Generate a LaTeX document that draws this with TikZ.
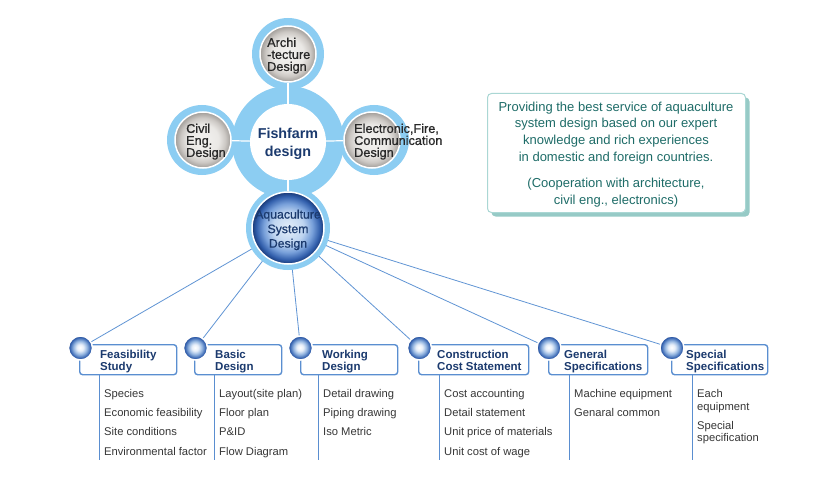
\documentclass[tikz,border=0pt]{standalone}
\usepackage{fontspec}
\setmainfont{Liberation Sans}
\newfontfamily\medfont[FakeBold=0.8]{Liberation Sans}
\usetikzlibrary{backgrounds,shadows}
\definecolor{ringblue}{RGB}{140,205,242}
\definecolor{navy}{RGB}{27,58,110}
\definecolor{itemgray}{RGB}{55,55,55}
\definecolor{circtext}{RGB}{40,40,40}
\definecolor{lineblue}{RGB}{96,148,212}
\definecolor{boxblue}{RGB}{90,142,208}
\definecolor{tealtext}{RGB}{30,108,104}
\definecolor{tealborder}{RGB}{170,215,212}
\definecolor{tealshadow}{RGB}{150,202,198}
\definecolor{grA}{RGB}{243,242,240}
\definecolor{grB}{RGB}{234,232,229}
\definecolor{grC}{RGB}{204,200,196}
\definecolor{grD}{RGB}{160,156,152}
\definecolor{aqA}{RGB}{228,238,249}
\definecolor{aqB}{RGB}{190,212,240}
\definecolor{aqC}{RGB}{120,160,218}
\definecolor{aqD}{RGB}{50,95,172}
\definecolor{aqE}{RGB}{24,56,118}
\definecolor{blA}{RGB}{255,255,255}
\definecolor{blB}{RGB}{230,238,249}
\definecolor{blC}{RGB}{150,183,225}
\definecolor{blD}{RGB}{60,105,180}
\definecolor{blE}{RGB}{30,70,145}
\pgfdeclareradialshading{grayshade}{\pgfpoint{0bp}{0bp}}{color(0bp)=(grA); color(14bp)=(grB); color(20bp)=(grC); color(25bp)=(grD); color(50bp)=(grD)}
\pgfdeclareradialshading{aquashade}{\pgfpoint{0bp}{0bp}}{color(0bp)=(aqA); color(11bp)=(aqB); color(17bp)=(aqC); color(22bp)=(aqD); color(25bp)=(aqE); color(50bp)=(aqE)}
\pgfdeclareradialshading{dotshade}{\pgfpoint{-1bp}{1bp}}{color(0bp)=(blA); color(7bp)=(blB); color(14bp)=(blC); color(21bp)=(blD); color(25bp)=(blE); color(50bp)=(blE)}
\tikzset{
  ring/.style={circle, fill=ringblue, inner sep=0pt},
  graydisc/.style={circle, inner sep=0pt, minimum size=56pt, shade, shading=grayshade, draw=white, line width=1.5pt},
  graytext/.style={anchor=north west, align=left, inner sep=0pt, text=circtext, font=\medfont\fontsize{12.7}{12}\selectfont},
  conn/.style={draw=lineblue, line width=0.8pt},
  whiteline/.style={draw=white, line width=1.2pt},
  stepbox/.style={draw=boxblue, line width=1.4pt, rounded corners=3pt, minimum height=30pt, anchor=north west, inner sep=0pt},
  bluedot/.style={circle, inner sep=0pt, minimum size=24pt, shade, shading=dotshade, draw=white, line width=1.5pt},
  lbl/.style={anchor=north west, align=left, inner sep=0pt, text=navy, font=\fontsize{11.5}{12}\selectfont\bfseries},
  items/.style={anchor=north west, align=left, inner sep=0pt, text=itemgray, font=\fontsize{11.2}{19.3}\selectfont},
  vline/.style={draw=boxblue, line width=0.9pt}
}
\begin{document}
\begin{tikzpicture}[x=1pt,y=-1pt]
\useasboundingbox (0,0) rectangle (840,500);
% outer rings
\node[ring, minimum size=72pt] (archR) at (288,54) {};
\node[ring, minimum size=70pt] (civR) at (202,140) {};
\node[ring, minimum size=70pt] (eleR) at (374,140) {};
\node[ring, minimum size=84pt] (aquR) at (288,228) {};
\node[ring, minimum size=112pt] (fishR) at (288,142) {};
% inner discs
\node[graydisc] (arch) at (288,54) {};
\node[graydisc] (civ) at (203,140) {};
\node[graydisc] (ele) at (372,140) {};
\node[circle, fill=white, minimum size=76pt, inner sep=0pt] (fish) at (288,142) {};
\node[circle, minimum size=72pt, inner sep=0pt, shade, shading=aquashade, draw=white, line width=1.5pt] (aqua) at (288,228) {};
\draw[whiteline] (arch) -- (fish);
\draw[whiteline] (civ) -- (fish);
\draw[whiteline] (ele) -- (fish);
\draw[whiteline] (fish) -- (aqua);
% texts in circles
\node[graytext] (tArch) at (267,37.5) {Archi\\-tecture\\Design};
\node[graytext] (tCiv) at (186,123.5) {Civil\\Eng.\\Design};
\node[graytext] (tEle) at (354,123.5) {Electronic,Fire,\\Communication\\Design};
\node[anchor=north, font=\fontsize{14.3}{18}\selectfont\bfseries, text=navy, align=center, inner sep=0pt] (tFish) at (288,128) {Fishfarm\\design};
\node[anchor=north, font=\medfont\fontsize{12.3}{14.5}\selectfont, text=navy, align=center, inner sep=0pt] (tAqua) at (288,209.5) {Aquaculture\\System\\Design};
% info box
\node[draw=tealborder, line width=1pt, fill=white, rounded corners=4pt, minimum width=258pt, minimum height=119pt, anchor=north west, drop shadow={shadow xshift=4pt, shadow yshift=-4pt, fill=tealshadow, opacity=1}] (info) at (487,93) {};
\node[anchor=north, align=center, inner sep=0pt, text=tealtext, font=\fontsize{13}{16.8}\selectfont] (infoText) at (616,101.5) {Providing the best service of aquaculture\\system design based on our expert\\knowledge and rich experiences\\in domestic and foreign countries.\\[9pt](Cooperation with architecture,\\civil eng., electronics)};
% bottom boxes
\node[stepbox, minimum width=97pt] (box1) at (79,344) {};
\node[stepbox, minimum width=87pt] (box2) at (194,344) {};
\node[stepbox, minimum width=97pt] (box3) at (300,344) {};
\node[stepbox, minimum width=110pt] (box4) at (418,344) {};
\node[stepbox, minimum width=99pt] (box5) at (548,344) {};
\node[stepbox, minimum width=96pt] (box6) at (671,344) {};
\node[bluedot] (b1) at (80.5,348) {};
\node[bluedot] (b2) at (195.5,348) {};
\node[bluedot] (b3) at (300.5,348) {};
\node[bluedot] (b4) at (419.5,348) {};
\node[bluedot] (b5) at (549,348) {};
\node[bluedot] (b6) at (672,348) {};
\node[lbl] (l1) at (100,349.8) {Feasibility\\Study};
\node[lbl] (l2) at (215,349.8) {Basic\\Design};
\node[lbl] (l3) at (322,349.8) {Working\\Design};
\node[lbl] (l4) at (437,349.8) {Construction\\Cost Statement};
\node[lbl] (l5) at (564,349.8) {General\\Specifications};
\node[lbl] (l6) at (686,349.8) {Special\\Specifications};
\coordinate (v1) at (99,460);
\coordinate (v2) at (214,460);
\coordinate (v3) at (318,460);
\coordinate (v4) at (439,460);
\coordinate (v5) at (569,460);
\coordinate (v6) at (692,460);
\draw[vline] (v1 |- box1.south) -- (v1);
\draw[vline] (v2 |- box2.south) -- (v2);
\draw[vline] (v3 |- box3.south) -- (v3);
\draw[vline] (v4 |- box4.south) -- (v4);
\draw[vline] (v5 |- box5.south) -- (v5);
\draw[vline] (v6 |- box6.south) -- (v6);
\node[items] (i1) at (104,389) {Species\\Economic feasibility\\Site conditions\\Environmental factor};
\node[items] (i2) at (219,389) {Layout(site plan)\\Floor plan\\P\&ID\\Flow Diagram};
\node[items] (i3) at (323,389) {Detail drawing\\Piping drawing\\Iso Metric};
\node[items] (i4) at (444,389) {Cost accounting\\Detail statement\\Unit price of materials\\Unit cost of wage};
\node[items] (i5) at (574,389) {Machine equipment\\Genaral common};
\node[items, font=\fontsize{11.2}{12.7}\selectfont] (i6) at (697,389) {Each\\equipment\\[6.5pt]Special\\specification};
\begin{pgfonlayer}{background}
\fill[white] (0,0) rectangle (840,500);
\draw[conn] (aqua.center) -- (b1.center);
\draw[conn] (aqua.center) -- (b2.center);
\draw[conn] (aqua.center) -- (b3.center);
\draw[conn] (aqua.center) -- (b4.center);
\draw[conn] (aqua.center) -- (b5.center);
\draw[conn] (aqua.center) -- (b6.center);
\end{pgfonlayer}
\end{tikzpicture}
\end{document}
